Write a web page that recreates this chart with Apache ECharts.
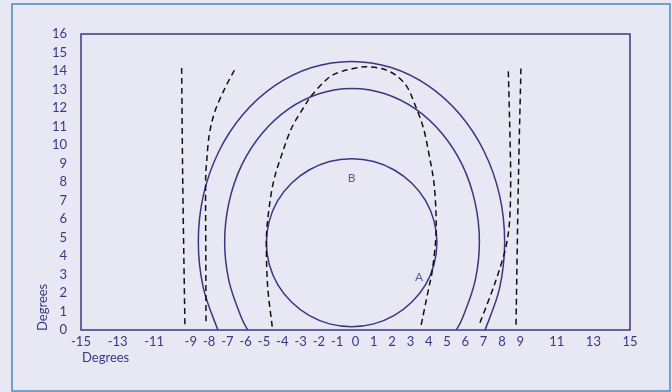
<!DOCTYPE html>
<html>
<head>
<meta charset="utf-8">
<script src="https://cdn.jsdelivr.net/npm/echarts@6/dist/echarts.min.js"></script>
<style>
  html, body { margin: 0; padding: 0; background: #e8e8f4; }
  #chart { width: 672px; height: 392px; }
</style>
</head>
<body>
<div id="chart"></div>
<script>
// tick labels shown on the x axis (the rest stay blank)
const xTickLabels = [-15, -13, -11, -9, -8, -7, -6, -5, -4, -3, -2, -1, 0, 1, 2, 3, 4, 5, 6, 7, 8, 9, 11, 13, 15]
const yMin = 0
const yMax = 16

// solid rings
const outerRing = [
  [-7.52, 0], [-8.31, 2.25], [-8.59, 4.77], [-8.31, 7.29], [-7.47, 9.65], [-6.14, 11.66],
  [-4.41, 13.21], [-2.39, 14.19], [-0.22, 14.52], [1.95, 14.19], [3.97, 13.21], [5.70, 11.66],
  [7.03, 9.65], [7.87, 7.29], [8.15, 4.77], [7.87, 2.25], [7.08, 0]
]
const middleRing = [
  [-5.88, 0], [-6.22, 0.63], [-6.91, 2.63], [-7.15, 4.77], [-6.91, 6.91], [-6.22, 8.91],
  [-5.11, 10.62], [-3.67, 11.94], [-1.99, 12.77], [-0.19, 13.05], [1.61, 12.77], [3.29, 11.94],
  [4.73, 10.62], [5.84, 8.91], [6.53, 6.91], [6.77, 4.77], [6.53, 2.63], [5.84, 0.63], [5.50, 0]
]
const innerRing = [
  [-0.21, 0.18], [-1.42, 0.33], [-2.54, 0.79], [-3.50, 1.51], [-4.25, 2.45], [-4.71, 3.54],
  [-4.87, 4.72], [-4.71, 5.90], [-4.25, 6.99], [-3.50, 7.93], [-2.54, 8.65], [-1.42, 9.11],
  [-0.21, 9.26], [1.00, 9.11], [2.12, 8.65], [3.08, 7.93], [3.83, 6.99], [4.29, 5.90],
  [4.45, 4.72], [4.29, 3.54], [3.83, 2.45], [3.08, 1.51], [2.12, 0.79], [1.00, 0.33]
]

// dashed curves
const dashedA = [
  [-4.55, 0.18], [-4.80, 2.34], [-4.87, 4.5], [-4.80, 5.95], [-4.50, 7.93], [-4.03, 9.48],
  [-3.49, 10.92], [-2.85, 12.0], [-2.36, 12.72], [-1.49, 13.62], [-0.75, 13.98], [0.25, 14.2],
  [0.70, 14.22], [1.43, 14.13], [2.16, 13.8], [2.80, 13.17], [3.25, 12.18], [3.71, 10.92],
  [4.02, 9.48], [4.28, 8.0], [4.40, 6.31], [4.38, 4.86], [4.20, 3.24], [3.98, 2.16], [3.58, 0.23]
]
const dashedLeftLine = [[-9.50, 14.16], [-9.44, 8.0], [-9.32, 0.18]]
const dashedLeftCurve = [
  [-6.62, 14.04], [-7.13, 13.08], [-7.68, 11.82], [-7.99, 10.56], [-8.13, 9.12],
  [-8.19, 7.95], [-8.18, 4.0], [-8.17, 0.27]
]
const dashedRightCurve = [
  [8.35, 13.98], [8.44, 10.5], [8.48, 8.0], [8.42, 5.9], [8.22, 4.5],
  [7.80, 3.06], [7.35, 1.8], [6.75, 0.27]
]
const dashedRightLine = [[9.04, 14.13], [8.90, 8.0], [8.77, 0.18]]

const letters = [
  { name: 'B', value: [-0.21, 8.2] },
  { name: 'A', value: [3.47, 2.88] }
]

const navy = '#3a3681'
const ink = '#111111'
const font = 'Lato'

// catmull-rom through the pixel points, written as cubic bezier path data
function smoothPath(pts, closed) {
  const n = pts.length
  const at = (i) => {
    if (closed) return pts[(i + n) % n]
    return pts[Math.max(0, Math.min(n - 1, i))]
  }
  let d = 'M' + pts[0][0] + ' ' + pts[0][1]
  const segs = closed ? n : n - 1
  for (let i = 0; i < segs; i++) {
    const p0 = at(i - 1), p1 = at(i), p2 = at(i + 1), p3 = at(i + 2)
    const c1x = p1[0] + (p2[0] - p0[0]) / 6
    const c1y = p1[1] + (p2[1] - p0[1]) / 6
    const c2x = p2[0] - (p3[0] - p1[0]) / 6
    const c2y = p2[1] - (p3[1] - p1[1]) / 6
    d += ' C' + c1x + ' ' + c1y + ' ' + c2x + ' ' + c2y + ' ' + p2[0] + ' ' + p2[1]
  }
  if (closed) d += ' Z'
  return d
}

// one custom series per curve
function curve(points, style, closed) {
  return {
    type: 'custom', data: points, silent: true, clip: true,
    renderItem: function (params, api) {
      if (params.dataIndex !== 0) return
      const pts = points.map((p) => api.coord(p))
      return {
        type: 'path',
        shape: { pathData: smoothPath(pts, closed) },
        style: Object.assign({ fill: null }, style)
      }
    }
  }
}

const solidStyle = { stroke: navy, lineWidth: 1.5 }
const dashStyle = { stroke: ink, lineWidth: 1.5, lineDash: [6, 4] }

const chart = echarts.init(document.getElementById('chart'))

chart.setOption({
  animation: false,
  backgroundColor: '#e8e8f4',
  grid: {
    left: 81, right: 42, top: 34, bottom: 62,
    show: true, borderColor: navy, borderWidth: 1.5,
    outerBoundsMode: 'none'
  },
  xAxis: {
    type: 'value', min: -15, max: 15, interval: 1,
    axisLine: { show: false }, axisTick: { show: false }, splitLine: { show: false },
    axisLabel: {
      color: navy, fontFamily: font, fontSize: 13, margin: 5,
      formatter: (v) => xTickLabels.includes(v) ? String(v) : ''
    }
  },
  yAxis: {
    type: 'value', min: yMin, max: yMax, interval: 1,
    axisLine: { show: false }, axisTick: { show: false }, splitLine: { show: false },
    axisLabel: { color: navy, fontFamily: font, fontSize: 13, margin: 14 }
  },
  graphic: [
    {
      type: 'rect', silent: true,
      shape: { x: 12, y: 4, width: 658, height: 387 },
      style: { fill: null, stroke: '#4b88b6', lineWidth: 1.5 }
    },
    {
      type: 'text', left: 82, top: 351,
      style: { text: 'Degrees', fill: navy, font: '13px ' + font }
    },
    {
      type: 'text', x: 43, y: 331, rotation: Math.PI / 2,
      style: { text: 'Degrees', fill: navy, font: '13px ' + font, align: 'left', verticalAlign: 'middle' }
    }
  ],
  series: [
    curve(outerRing, solidStyle),
    curve(middleRing, solidStyle),
    curve(innerRing, solidStyle, true),
    curve(dashedA, dashStyle),
    curve(dashedLeftLine, dashStyle),
    curve(dashedLeftCurve, dashStyle),
    curve(dashedRightCurve, dashStyle),
    curve(dashedRightLine, dashStyle),
    {
      type: 'scatter', data: letters, symbolSize: 0, silent: true,
      label: {
        show: true, position: 'inside', formatter: (p) => p.name,
        color: navy, fontFamily: font, fontSize: 12
      }
    }
  ]
})
</script>
</body>
</html>
